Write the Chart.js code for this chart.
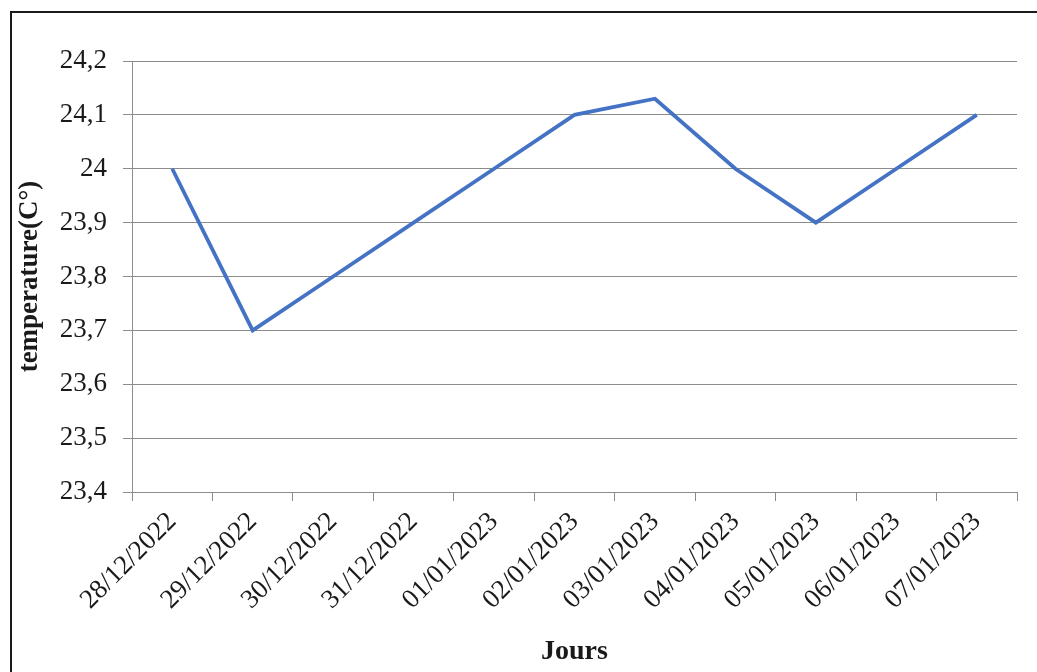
<!DOCTYPE html>
<html>
<head>
<meta charset="utf-8">
<script src="https://cdn.jsdelivr.net/npm/chart.js@4/dist/chart.umd.min.js"></script>
<style>
  html, body { margin: 0; padding: 0; background: #fff; }
  canvas { display: block; }
</style>
</head>
<body>
<canvas id="c" width="1037" height="672"></canvas>
<script>
const categories = ["28/12/2022","29/12/2022","30/12/2022","31/12/2022","01/01/2023","02/01/2023","03/01/2023","04/01/2023","05/01/2023","06/01/2023","07/01/2023"];
const temperature = [24.0, 23.7, 23.8, 23.9, 24.0, 24.1, 24.13, 24.0, 23.9, 24.0, 24.1];
const yMin = 23.4, yMax = 24.2, yStep = 0.1;
const xTitle = "Jours";
const yTitle = "temperature(C°)";

const FONT = "'Liberation Serif', 'Times New Roman', serif";
const GRID = "#8c8c8c";

const frame = {
  id: 'frame',
  beforeDraw(chart) {
    const ctx = chart.ctx;
    ctx.save();
    ctx.fillStyle = '#fff';
    ctx.fillRect(0, 0, chart.width, chart.height);
    ctx.restore();
  },
  afterDraw(chart) {
    const ctx = chart.ctx;
    ctx.save();
    ctx.strokeStyle = '#1a1a1a';
    ctx.lineWidth = 2;
    ctx.beginPath();
    ctx.moveTo(11, chart.height + 5);
    ctx.lineTo(11, 12);
    ctx.lineTo(chart.width + 5, 12);
    ctx.stroke();
    ctx.restore();
  }
};

new Chart(document.getElementById('c'), {
  type: 'line',
  data: {
    labels: categories,
    datasets: [{
      data: temperature,
      borderColor: '#4472C4',
      borderWidth: 3.8,
      pointRadius: 0,
      tension: 0,
      fill: false
    }]
  },
  options: {
    responsive: false,
    animation: false,
    devicePixelRatio: 1,
    layout: { padding: { left: 12, top: 61, right: 20, bottom: 0 } },
    plugins: { legend: { display: false }, tooltip: { enabled: false } },
    scales: {
      x: {
        offset: true,
        grid: { offset: true, drawOnChartArea: false, drawTicks: true, tickLength: 9, color: GRID, lineWidth: 1 },
        border: { display: true, color: GRID, width: 1 },
        ticks: {
          autoSkip: false, maxRotation: 45, minRotation: 45, padding: 5,
          color: '#1a1a1a', font: { family: FONT, size: 27 }
        },
        title: { display: true, text: xTitle, color: '#1a1a1a', font: { family: FONT, size: 28, weight: 'bold' }, padding: { top: 0, bottom: 3 } },
        afterFit(scale) { scale.height = 180; }
      },
      y: {
        min: yMin, max: yMax,
        grid: { color: GRID, lineWidth: 1, drawTicks: true, tickLength: 9 },
        border: { display: true, color: GRID, width: 1 },
        ticks: {
          stepSize: yStep, padding: 16, color: '#1a1a1a',
          font: { family: FONT, size: 27 },
          callback: (v) => String(Math.round(v * 10) / 10).replace('.', ',')
        },
        title: { display: true, text: yTitle, color: '#1a1a1a', font: { family: FONT, size: 27, weight: 'bold' }, padding: { top: 2, bottom: 0 } },
        afterFit(scale) { scale.width = 120; }
      }
    }
  },
  plugins: [frame]
});
</script>
</body>
</html>
